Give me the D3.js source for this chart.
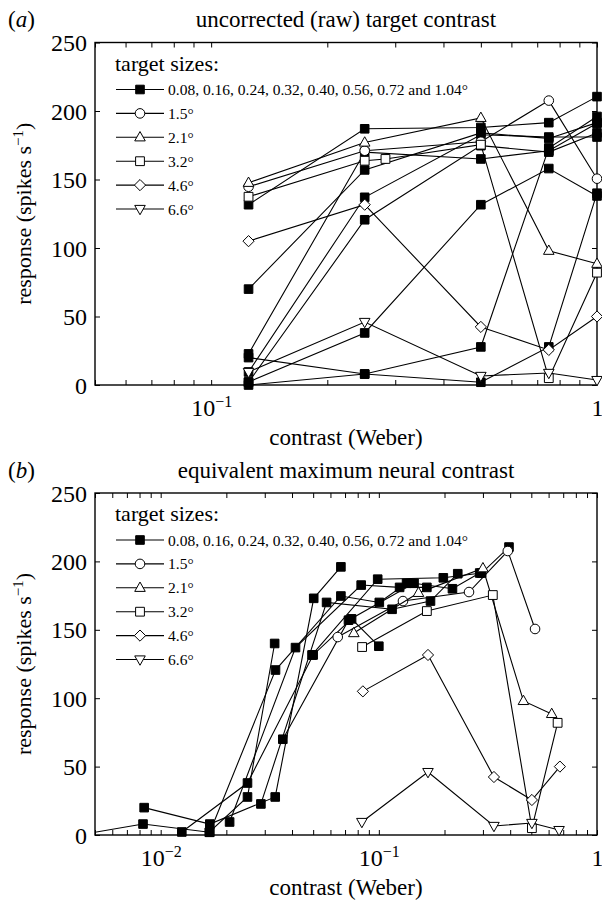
<!DOCTYPE html>
<html><head><meta charset="utf-8">
<script src="https://cdn.jsdelivr.net/npm/d3@7"></script>
<style>
body{margin:0;background:#fff}
svg{display:block}
</style>
</head><body>
<svg id="chart" width="602" height="901"></svg>
<script>
// ---------------- DATA ----------------
const panelTitles = ["uncorrected (raw) target contrast", "equivalent maximum neural contrast"];
const panelLetters = ["a", "b"];
const legendTitle = "target sizes:";
const legendLabels = ["0.08, 0.16, 0.24, 0.32, 0.40, 0.56, 0.72 and 1.04\u00b0", "1.5\u00b0", "2.1\u00b0", "3.2\u00b0", "4.6\u00b0", "6.6\u00b0"];
const xAxisLabel = "contrast (Weber)";
const yAxisLabel = "response (spikes s";
const yTicks = [0, 50, 100, 150, 200, 250];

// panel (a): raw contrasts
const rawContrasts = [0.125, 0.25, 0.5, 0.75, 1];
const rawContrastsSquare = [0.125, 0.25, 0.283, 0.5, 0.75, 1];
const xMajorA = [0.1, 1];
const xMajorLabelsA = [["10", "\u22121"], ["1", ""]];
const xMinorA = [0.05, 0.06, 0.07, 0.08, 0.09, 0.2, 0.3, 0.4, 0.5, 0.6, 0.7, 0.8, 0.9];
// panel (b)
const xMajorB = [0.01, 0.1, 1];
const xMajorLabelsB = [["10", "\u22122"], ["10", "\u22121"], ["1", ""]];
const xMinorB = [0.005, 0.006, 0.007, 0.008, 0.009, 0.02, 0.03, 0.04, 0.05, 0.06, 0.07, 0.08, 0.09, 0.2, 0.3, 0.4, 0.5, 0.6, 0.7, 0.8, 0.9];

// small targets (filled squares): responses (same in both panels)
const smallResponses = [
  [20, 8, 27.8, 173, 196],
  [2.2, 38, 131.6, 158, 138],
  [0, 8, 2, 27.8, 140],
  [9.5, 137, 182.7, 181, 181],
  [2, 120.6, 174.7, 170, 184],
  [70, 157, 184, 180, 191.5],
  [22.7, 170, 165, 171, 191],
  [131.6, 187, 188, 191.5, 210.5]
];
// small targets: equivalent neural contrast (panel b x values)
const smallNeural = [
  [0.0084, 0.0168, 0.0335, 0.0503, 0.067],
  [0.0125, 0.025, 0.05, 0.075, 0.1],
  [0.0042, 0.0083, 0.0167, 0.025, 0.0333],
  [0.0207, 0.0415, 0.083, 0.1245, 0.166],
  [0.0168, 0.0336, 0.067, 0.1005, 0.134],
  [0.0363, 0.0726, 0.145, 0.2175, 0.29],
  [0.0288, 0.0576, 0.115, 0.1725, 0.23],
  [0.0494, 0.0988, 0.1975, 0.296, 0.395]
];
// large targets (open markers)
const resp15 = [144.7, 171, 177.6, 207.6, 150.6];
const resp21 = [147.6, 177, 195, 98, 88.5];
const resp32raw = [137.4, 163.7, 165, 175.4, 5, 82];
const resp32 = [137.4, 163.7, 175.4, 5, 82];
const resp46 = [105, 131.6, 42.4, 25.6, 50];
const resp66 = [9.5, 46, 6.6, 8.8, 3.6];
const neural15 = [0.0648, 0.129, 0.259, 0.39, 0.52];
const neural21 = [0.0768, 0.152, 0.30, 0.46, 0.62];
const neural32 = [0.0838, 0.166, 0.333, 0.503, 0.66];
const neural46 = [0.0845, 0.168, 0.337, 0.503, 0.676];
const neural66 = [0.0836, 0.168, 0.337, 0.503, 0.67];

// ---------------- DRAWING ----------------
const svg = d3.select("#chart");
const FS = 23;
const TFS = 24;
const SERIF = "'Liberation Serif', 'Times New Roman', 'DejaVu Serif', serif";

const shapes = {
  fsquare: {draw(c, r) { c.rect(-r, -r, 2 * r, 2 * r); }},
  osquare: {draw(c, r) { c.rect(-r, -r, 2 * r, 2 * r); }},
  circle: {draw(c, r) { c.moveTo(r, 0); c.arc(0, 0, r, 0, 2 * Math.PI); }},
  triUp: {draw(c, r) { c.moveTo(0, -r * 1.2); c.lineTo(r * 1.1, r * 0.75); c.lineTo(-r * 1.1, r * 0.75); c.closePath(); }},
  triDown: {draw(c, r) { c.moveTo(0, r * 1.2); c.lineTo(r * 1.1, -r * 0.75); c.lineTo(-r * 1.1, -r * 0.75); c.closePath(); }},
  diamond: {draw(c, r) { c.moveTo(0, -r); c.lineTo(r, 0); c.lineTo(0, r); c.lineTo(-r, 0); c.closePath(); }}
};
const sizes = {fsquare: 4.3, osquare: 4.4, circle: 4.8, triUp: 4.8, triDown: 4.8, diamond: 5.6};

function buildSeries(panel) {
  const out = [];
  smallResponses.forEach((ys, i) => {
    const xs = panel === 0 ? rawContrasts : smallNeural[i];
    out.push({shape: "fsquare", pts: xs.map((x, j) => [x, ys[j]])});
  });
  const open = panel === 0 ? [
    ["circle", rawContrasts, resp15], ["triUp", rawContrasts, resp21], ["osquare", rawContrastsSquare, resp32raw],
    ["diamond", rawContrasts, resp46], ["triDown", rawContrasts, resp66]
  ] : [
    ["circle", neural15, resp15], ["triUp", neural21, resp21], ["osquare", neural32, resp32],
    ["diamond", neural46, resp46], ["triDown", neural66, resp66]
  ];
  open.forEach(([s, xs, ys]) => out.push({shape: s, pts: xs.map((x, j) => [x, ys[j]])}));
  return out;
}

function drawPanel(p) {
  const {idx, left, right, top, bottom, domain, majors, majorLabels, minors} = p;
  const x = d3.scaleLog().domain(domain).range([left, right]);
  const y = d3.scaleLinear().domain([0, 250]).range([bottom, top]);
  const g = svg.append("g");

  const clipId = "clip" + idx;
  g.append("clipPath").attr("id", clipId).append("rect")
    .attr("x", left).attr("y", top - 10).attr("width", right - left + 8).attr("height", bottom - top + 18);

  // ticks (inward) on all four sides
  const allX = majors.concat(minors);
  const styleAxis = sel => { sel.select(".domain").remove(); sel.selectAll("line").attr("stroke", "#000").attr("stroke-width", 1); };
  g.append("g").attr("transform", `translate(0,${bottom})`).call(d3.axisBottom(x).tickValues(allX).tickSize(-5).tickFormat("")).call(styleAxis);
  g.append("g").attr("transform", `translate(0,${top})`).call(d3.axisTop(x).tickValues(allX).tickSize(-5).tickFormat("")).call(styleAxis);
  g.append("g").attr("transform", `translate(${left},0)`).call(d3.axisLeft(y).tickValues(yTicks).tickSize(-5).tickFormat("")).call(styleAxis);
  g.append("g").attr("transform", `translate(${right},0)`).call(d3.axisRight(y).tickValues(yTicks).tickSize(-5).tickFormat("")).call(styleAxis);

  // y tick labels
  const yl = g.append("g").attr("transform", `translate(${left},0)`)
    .call(d3.axisLeft(y).tickValues(yTicks).tickSize(0).tickPadding(8).tickFormat(d3.format("d")));
  yl.select(".domain").remove();
  yl.selectAll("text").style("font-size", TFS + "px").attr("dy", "0.34em");

  // x tick labels
  const xl = g.append("g").attr("transform", `translate(0,${bottom})`)
    .call(d3.axisBottom(x).tickValues(majors).tickSize(0).tickFormat(""));
  xl.select(".domain").remove();
  xl.selectAll("text").each(function(d, i) {
    const t = d3.select(this).attr("y", 31).attr("dy", null).style("font-size", TFS + "px").attr("text-anchor", "middle");
    t.append("tspan").text(majorLabels[i][0]);
    if (majorLabels[i][1]) t.append("tspan").attr("dy", -9).style("font-size", "16px").text(majorLabels[i][1]);
  });

  // frame
  g.append("rect").attr("x", left).attr("y", top).attr("width", right - left).attr("height", bottom - top)
    .attr("fill", "none").attr("stroke", "#000").attr("stroke-width", 1.4);

  // data
  const series = buildSeries(idx);
  const line = d3.line().x(d => x(d[0])).y(d => y(d[1]));
  const dg = g.append("g").attr("clip-path", `url(#${clipId})`);
  series.forEach(s => {
    const sg = dg.append("g");
    sg.append("path").attr("d", line(s.pts)).attr("fill", "none").attr("stroke", "#000").attr("stroke-width", 1.1);
    sg.selectAll("path.m").data(s.pts).join("path").attr("class", "m")
      .attr("transform", d => `translate(${x(d[0])},${y(d[1])})`)
      .attr("d", d3.symbol().type(shapes[s.shape]).size(sizes[s.shape]))
      .attr("fill", s.shape === "fsquare" ? "#000" : "#fff")
      .attr("stroke", "#000").attr("stroke-width", 1);
  });

  // legend
  const lg = g.append("g");
  lg.append("text").attr("x", 115).attr("y", top + 28).style("font-size", "22px").text(legendTitle);
  const legShapes = ["fsquare", "circle", "triUp", "osquare", "diamond", "triDown"];
  legendLabels.forEach((lab, i) => {
    const cy = top + 47 + i * 23.9;
    lg.append("line").attr("x1", 116).attr("x2", 164).attr("y1", cy).attr("y2", cy).attr("stroke", "#000").attr("stroke-width", 1.1);
    lg.append("path").attr("transform", `translate(140,${cy})`)
      .attr("d", d3.symbol().type(shapes[legShapes[i]]).size(sizes[legShapes[i]]))
      .attr("fill", legShapes[i] === "fsquare" ? "#000" : "#fff").attr("stroke", "#000").attr("stroke-width", 1);
    lg.append("text").attr("x", 168).attr("y", cy + 5.5).style("font-size", "15.5px").text(lab);
  });

  // titles
  const cx = (left + right) / 2;
  g.append("text").attr("x", cx).attr("y", top - 15.5).attr("text-anchor", "middle").style("font-size", FS + "px").text(panelTitles[idx]);
  const lt = g.append("text").attr("x", 8).attr("y", top - 15.5).style("font-size", FS + "px");
  lt.append("tspan").text("(");
  lt.append("tspan").style("font-style", "italic").text(panelLetters[idx]);
  lt.append("tspan").text(")");

  // axis labels
  g.append("text").attr("x", cx).attr("y", bottom + 60).attr("text-anchor", "middle").style("font-size", FS + "px").text(xAxisLabel);
  const cyMid = (top + bottom) / 2;
  const yt = g.append("text").attr("transform", `translate(31,${cyMid}) rotate(-90)`).attr("text-anchor", "middle").style("font-size", "22px");
  yt.append("tspan").text(yAxisLabel);
  yt.append("tspan").attr("dy", -8).style("font-size", "15px").text("\u22121");
  yt.append("tspan").attr("dy", 8).text(")");
}

drawPanel({idx: 0, left: 95, right: 597, top: 42.5, bottom: 385, domain: [0.05, 1], majors: xMajorA, majorLabels: xMajorLabelsA, minors: xMinorA});
drawPanel({idx: 1, left: 95, right: 597, top: 493, bottom: 835, domain: [0.005, 1], majors: xMajorB, majorLabels: xMajorLabelsB, minors: xMinorB});

svg.selectAll("g").attr("font-family", null).attr("font-size", null);
svg.selectAll("text").style("font-family", SERIF).attr("fill", "#000");
</script>
</body></html>
